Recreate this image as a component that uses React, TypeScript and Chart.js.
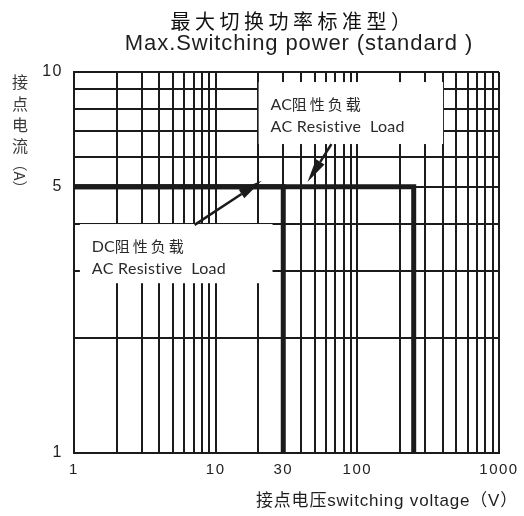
import React, { useEffect, useRef } from "react";
import { Chart, registerables } from "chart.js";

Chart.register(...registerables);

// ---- data ----
const X_GRID = [1, 2, 3, 4, 5, 6, 7, 8, 9, 10, 20, 30, 40, 50, 60, 70, 80, 90, 100, 200, 300, 400, 500, 600, 700, 800, 900, 1000];
const X_LABELS = [1, 10, 30, 100, 1000];
const Y_GRID = [1, 2, 3, 4, 5, 6, 7, 8, 9, 10];
const Y_LABELS = [1, 5, 10];

const DC_X = [30, 30, 1];
const DC_Y = [1, 5, 5];
const AC_X = [1, 250, 250];
const AC_Y = [5, 5, 1];

const TITLE_CN = "最大切换功率标准型）";
const TITLE_EN = "Max.Switching power (standard )";
const X_TITLE = "接点电压switching voltage（V）";
const Y_TITLE_CN = ["接", "点", "电", "流"];
const Y_TITLE_UNIT = "（A）";

const NOTE_AC = ["AC", "阻性负载", "AC Resistive  Load"];
const NOTE_DC = ["DC", "阻性负载", "AC Resistive  Load"];

// annotation anchors in data units
const BOX_AC = [20.1, 9.41, 403, 6.47]; // x1, y1, x2, y2
const BOX_DC = [1.1, 3.99, 25.2, 2.79];
const ARROW_DC = [7.1, 3.97, 21.1, 5.18]; // tail x, tail y, head x, head y
const ARROW_AC = [65.6, 6.47, 44.5, 5.14];

const INK = "#1b1b1b";
const LATIN = "'Liberation Sans', 'Noto Sans CJK SC', sans-serif";
const CJK = "'Noto Sans CJK SC', sans-serif";

function drawSpaced(ctx: any, text: string, x: number, y: number, spacing: number) {
  ctx.letterSpacing = spacing + "px";
  ctx.fillText(text, x, y);
  const w = ctx.measureText(text).width;
  ctx.letterSpacing = "0px";
  return w;
}

const decorPlugin = {
  id: "decor",
  beforeDraw(chart: any) {
    // slightly spaced tick digits, as in the reference
    chart.ctx.letterSpacing = "1.5px";
  },
  beforeDatasetsDraw(chart: any) {
    const { ctx, scales } = chart;
    ctx.letterSpacing = "0px";
    const xs = scales.x;
    const ys = scales.y;
    ctx.save();
    ctx.fillStyle = "#ffffff";
    for (const b of [BOX_AC, BOX_DC]) {
      const x1 = xs.getPixelForValue(b[0]);
      const y1 = ys.getPixelForValue(b[1]);
      const x2 = xs.getPixelForValue(b[2]);
      const y2 = ys.getPixelForValue(b[3]);
      ctx.fillRect(x1, y1, x2 - x1, y2 - y1);
    }
    ctx.restore();
  },
  afterDatasetsDraw(chart: any) {
    const { ctx, scales } = chart;
    const xs = scales.x;
    const ys = scales.y;
    ctx.save();
    // arrows
    for (const a of [ARROW_DC, ARROW_AC]) {
      const tx = xs.getPixelForValue(a[0]);
      const ty = ys.getPixelForValue(a[1]);
      const hx = xs.getPixelForValue(a[2]);
      const hy = ys.getPixelForValue(a[3]);
      const ang = Math.atan2(hy - ty, hx - tx);
      const len = 24;
      const half = 5;
      const bx = hx - len * Math.cos(ang);
      const by = hy - len * Math.sin(ang);
      ctx.strokeStyle = INK;
      ctx.lineWidth = 2.5;
      ctx.beginPath();
      ctx.moveTo(tx, ty);
      ctx.lineTo(bx, by);
      ctx.stroke();
      ctx.fillStyle = INK;
      ctx.beginPath();
      ctx.moveTo(hx, hy);
      ctx.lineTo(bx + half * Math.sin(ang), by - half * Math.cos(ang));
      ctx.lineTo(bx - half * Math.sin(ang), by + half * Math.cos(ang));
      ctx.closePath();
      ctx.fill();
    }
    // note texts
    ctx.fillStyle = "#2a2a2a";
    ctx.textBaseline = "alphabetic";
    ctx.textAlign = "left";
    for (const [b, n] of [[BOX_AC, NOTE_AC], [BOX_DC, NOTE_DC]] as any) {
      const x1 = xs.getPixelForValue(b[0]) + 12;
      const top = ys.getPixelForValue(b[1]);
      ctx.font = "16px Lato, " + CJK;
      const w = drawSpaced(ctx, n[0], x1, top + 28, 0);
      ctx.font = "15px " + CJK;
      drawSpaced(ctx, n[1], x1 + w, top + 28, 3);
      ctx.font = "16px Lato, " + CJK;
      drawSpaced(ctx, n[2], x1, top + 50, 0.3);
    }
    ctx.restore();
  },
  afterDraw(chart: any) {
    const { ctx } = chart;
    ctx.save();
    ctx.fillStyle = "#111";
    ctx.textAlign = "left";
    ctx.textBaseline = "alphabetic";
    // title line 1
    ctx.font = "20px " + CJK;
    ctx.letterSpacing = "4.5px";
    let w = ctx.measureText(TITLE_CN).width;
    ctx.fillText(TITLE_CN, 293 - w / 2, 29);
    // title line 2
    ctx.fillStyle = "#1e1e1e";
    ctx.font = "22px " + LATIN;
    ctx.letterSpacing = "0.9px";
    w = ctx.measureText(TITLE_EN).width;
    ctx.fillText(TITLE_EN, 299 - w / 2, 50);
    // x title
    ctx.font = "17px " + LATIN;
    ctx.letterSpacing = "0.8px";
    w = ctx.measureText(X_TITLE).width;
    ctx.fillText(X_TITLE, 518 - w, 506);
    ctx.letterSpacing = "0px";
    // y title
    ctx.fillStyle = "#3a3a3a";
    ctx.font = "16px " + CJK;
    ctx.textAlign = "center";
    ctx.textBaseline = "middle";
    const yc = [82, 104, 125, 146];
    Y_TITLE_CN.forEach((c, i) => ctx.fillText(c, 20, yc[i]));
    ctx.translate(20, 176);
    ctx.rotate(Math.PI / 2);
    ctx.font = "15px " + CJK;
    ctx.fillText(Y_TITLE_UNIT, 0, 0);
    ctx.restore();
  },
};

export default function App() {
  const ref = useRef<HTMLCanvasElement | null>(null);
  useEffect(() => {
    if (!ref.current) return;
    const chart = new Chart(ref.current, {
      type: "line",
      data: {
        datasets: [
          {
            data: DC_X.map((x, i) => ({ x, y: DC_Y[i] })),
            borderColor: INK,
            borderWidth: 5,
            pointRadius: 0,
            fill: false,
            tension: 0,
            borderJoinStyle: "miter",
            borderCapStyle: "butt",
          },
          {
            data: AC_X.map((x, i) => ({ x, y: AC_Y[i] })),
            borderColor: INK,
            borderWidth: 5,
            pointRadius: 0,
            fill: false,
            tension: 0,
            borderJoinStyle: "miter",
            borderCapStyle: "butt",
          },
        ],
      },
      options: {
        responsive: false,
        animation: false,
        devicePixelRatio: 1,
        layout: { padding: { top: 72, right: 25, left: 0, bottom: 0 } },
        plugins: {
          legend: { display: false },
          title: { display: false },
          tooltip: { enabled: false },
        },
        scales: {
          x: {
            type: "logarithmic",
            min: 1,
            max: 1000,
            afterBuildTicks: (s: any) => {
              s.ticks = X_GRID.map((v) => ({ value: v }));
            },
            afterFit: (s: any) => {
              s.height = 63;
            },
            grid: { color: INK, lineWidth: 2, drawTicks: false },
            border: { color: INK, width: 2 },
            ticks: {
              autoSkip: false,
              maxRotation: 0,
              padding: 8,
              color: "#222",
              font: { family: LATIN, size: 15 },
              callback: (v: any) => (X_LABELS.includes(Number(v)) ? String(v) : ""),
            },
          },
          y: {
            type: "logarithmic",
            min: 1,
            max: 10,
            afterBuildTicks: (s: any) => {
              s.ticks = Y_GRID.map((v) => ({ value: v }));
            },
            afterFit: (s: any) => {
              s.width = 74;
            },
            grid: { color: INK, lineWidth: 2, drawTicks: false },
            border: { color: INK, width: 2 },
            ticks: {
              autoSkip: false,
              padding: 11,
              color: "#222",
              font: { family: LATIN, size: 16 },
              callback: (v: any) => (Y_LABELS.includes(Number(v)) ? String(v) : ""),
            },
          },
        },
      },
      plugins: [decorPlugin],
    } as any);
    return () => chart.destroy();
  }, []);
  return (
    <div style={{ position: "fixed", left: 0, top: 0, width: 524, height: 516, background: "#fff" }}>
      <canvas ref={ref} width={524} height={516} style={{ width: 524, height: 516, display: "block" }} />
    </div>
  );
}
